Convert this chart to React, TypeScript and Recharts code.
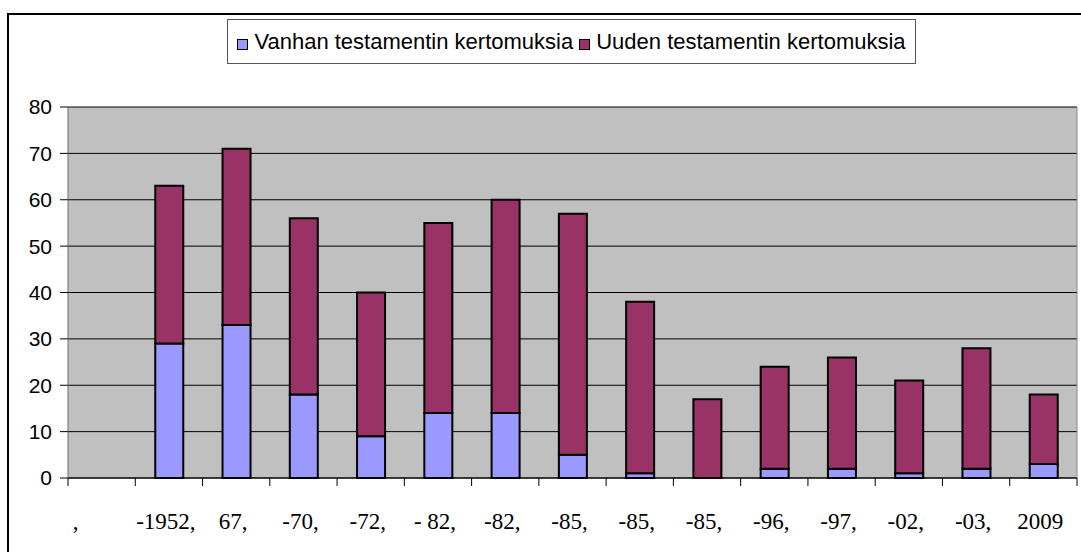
import { BarChart, Bar, XAxis, YAxis, CartesianGrid } from 'recharts'

const categories = [',', '-1952,', '67,', '-70,', '-72,', '- 82,', '-82,', '-85,', '-85,', '-85,', '-96,', '-97,', '-02,', '-03,', '2009']
const vanha = [null, 29, 33, 18, 9, 14, 14, 5, 1, 0, 2, 2, 1, 2, 3]
const uusi = [null, 34, 38, 38, 31, 41, 46, 52, 37, 17, 22, 24, 20, 26, 15]
const yTicks = [0, 10, 20, 30, 40, 50, 60, 70, 80]

const seriesNames = ['Vanhan testamentin kertomuksia', 'Uuden testamentin kertomuksia']
const colors = ['#9999FF', '#993366']

const data = categories.map((label, i) => ({
  label,
  vanha: vanha[i],
  uusi: uusi[i],
}))

const CHART_W = 1081
const CHART_H = 552
const MARGIN = { top: 107, right: 0, bottom: 14, left: 0 }
const Y_AXIS_W = 68
const RIGHT_AXIS_W = 4
const plotWidth = CHART_W - MARGIN.left - MARGIN.right - Y_AXIS_W - RIGHT_AXIS_W
const band = plotWidth / categories.length

// Excel-style ticks sit between categories, so each tick draws the mark at its left edge
function CategoryTick(props: any) {
  const { x, y, payload } = props
  const axisY = y - 12
  const shift = payload.index === 0 ? -26 : -3
  const last = payload.index === categories.length - 1
  return (
    <g>
      <line x1={x - band / 2} x2={x - band / 2} y1={axisY} y2={axisY + 8} stroke="#000" />
      {last && <line x1={x + band / 2} x2={x + band / 2} y1={axisY} y2={axisY + 8} stroke="#000" />}
      <text
        x={x + shift}
        y={axisY + 51}
        textAnchor="middle"
        fontFamily="'Liberation Serif', 'Times New Roman', serif"
        fontSize={23}
        fill="#000"
      >
        {payload.value}
      </text>
    </g>
  )
}

function LegendBox() {
  return (
    <div
      style={{
        position: 'absolute',
        left: 227,
        top: 19,
        boxSizing: 'border-box',
        width: 689,
        height: 45,
        border: '1px solid #555',
        background: '#fff',
        display: 'flex',
        alignItems: 'center',
        justifyContent: 'center',
        fontFamily: "'Liberation Sans', Arial, sans-serif",
        fontSize: 22,
        color: '#000',
        whiteSpace: 'nowrap',
      }}
    >
      {seriesNames.map((name, i) => (
        <span key={name} style={{ display: 'flex', alignItems: 'center', marginRight: i === 0 ? 6 : 0 }}>
          <span
            style={{
              display: 'inline-block',
              width: 9,
              height: 9,
              background: colors[i],
              border: '1px solid #000',
              marginRight: 6,
              marginTop: 5,
            }}
          />
          {name}
        </span>
      ))}
    </div>
  )
}

export default function App() {
  return (
    <div style={{ position: 'absolute', left: 0, top: 0, width: CHART_W, height: CHART_H, overflow: 'hidden', background: '#fff' }}>
      <div
        style={{
          position: 'absolute',
          left: 7,
          top: 13,
          width: 1100,
          height: 600,
          border: '2px solid #000',
        }}
      />
      <div style={{ position: 'absolute', left: 0, top: 0 }}>
        <BarChart width={CHART_W} height={CHART_H} data={data} margin={MARGIN} barSize={28}>
          <CartesianGrid vertical={false} stroke="#000" fill="#C0C0C0" />
          <XAxis
            dataKey="label"
            tick={<CategoryTick />}
            tickLine={false}
            tickSize={0}
            tickMargin={12}
            axisLine={{ stroke: '#000' }}
            height={60}
            interval={0}
          />
          <YAxis
            domain={[0, 80]}
            ticks={yTicks}
            width={Y_AXIS_W}
            tickSize={8}
            tickMargin={8}
            interval={0}
            axisLine={{ stroke: '#6b6b6b' }}
            tickLine={{ stroke: '#000' }}
            tick={{ fill: '#000', fontSize: 21, fontFamily: "'Liberation Sans', Arial, sans-serif" }}
          />
          <YAxis
            yAxisId="r"
            orientation="right"
            domain={[0, 80]}
            width={RIGHT_AXIS_W}
            tick={false}
            tickLine={false}
            axisLine={{ stroke: '#888' }}
          />
          <Bar dataKey="vanha" stackId="a" name={seriesNames[0]} fill={colors[0]} stroke="#000" strokeWidth={2} isAnimationActive={false} />
          <Bar dataKey="uusi" stackId="a" name={seriesNames[1]} fill={colors[1]} stroke="#000" strokeWidth={2} isAnimationActive={false} />
        </BarChart>
      </div>
      <LegendBox />
    </div>
  )
}
